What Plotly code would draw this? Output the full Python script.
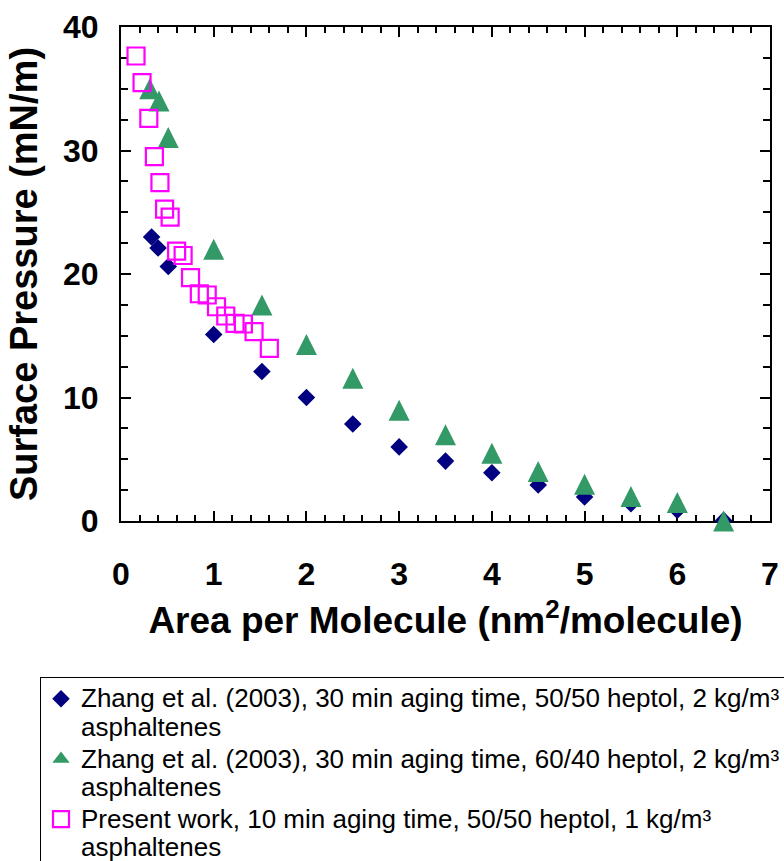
import plotly.graph_objects as go

# ---- data ----
zhang_5050_x = [0.33, 0.40, 0.51, 1.0, 1.52, 2.0, 2.5, 3.0, 3.5, 4.0, 4.5, 5.0, 5.5, 6.0, 6.5]
zhang_5050_y = [23.0, 22.1, 20.6, 15.1, 12.1, 10.0, 7.85, 6.0, 4.85, 3.9, 2.92, 1.95, 1.4, 0.87, 0.05]

zhang_6040_x = [0.31, 0.41, 0.51, 1.0, 1.52, 2.0, 2.5, 3.0, 3.5, 4.0, 4.5, 5.0, 5.5, 6.0, 6.5]
zhang_6040_y = [35.0, 34.0, 31.05, 22.0, 17.5, 14.3, 11.55, 8.97, 6.98, 5.49, 4.0, 2.98, 1.98, 1.5, 0.0]

present_x = [0.162, 0.227, 0.30, 0.36, 0.42, 0.47, 0.53, 0.60, 0.67, 0.75, 0.845, 0.93,
             1.03, 1.13, 1.23, 1.32, 1.435, 1.60]
present_y = [37.65, 35.5, 32.6, 29.5, 27.4, 25.26, 24.6, 21.86, 21.5, 19.7, 18.4, 18.3,
             17.35, 16.6, 16.0, 15.95, 15.33, 13.98]

series_names = [
    "Zhang et al. (2003), 30 min aging time, 50/50 heptol, 2 kg/m³<br>asphaltenes",
    "Zhang et al. (2003), 30 min aging time, 60/40 heptol, 2 kg/m³<br>asphaltenes",
    "Present work, 10 min aging time, 50/50 heptol, 1 kg/m³<br>asphaltenes",
]

x_title = "Area per Molecule (nm<sup>2</sup>/molecule)"
y_title = "Surface Pressure (mN/m)"
x_range = [0, 7]
y_range = [0, 40]

FONT = "Liberation Sans, Arial, sans-serif"
GREEN = "#339966"


def legend_label(s):
    # larger glyphs while keeping the legend line pitch of the base legend font
    return "<br>".join('<span style="font-size:26px">' + part + "</span>" for part in s.split("<br>"))


fig = go.Figure()
fig.add_trace(go.Scatter(
    x=zhang_5050_x, y=zhang_5050_y, mode="markers", name=legend_label(series_names[0]),
    marker=dict(symbol="diamond", size=13.5, color="#000080", line=dict(width=0)),
    cliponaxis=False,
))
# data marks of the 60/40 series (tall triangles, centred on the points)
fig.add_trace(go.Scatter(
    x=zhang_6040_x, y=zhang_6040_y, mode="markers", name=legend_label(series_names[1]),
    legendgroup="z6040", showlegend=False,
    marker=dict(symbol="arrow-down", angle=180, size=21, color=GREEN,
                line=dict(width=0), standoff=10.5),
    cliponaxis=False,
))
# legend entry for the 60/40 series (no data marks drawn)
fig.add_trace(go.Scatter(
    x=[None], y=[None], mode="markers", name=legend_label(series_names[1]),
    legendgroup="z6040", showlegend=True, hoverinfo="skip",
    marker=dict(symbol="triangle-up", size=15, color=GREEN, line=dict(width=0)),
))
fig.add_trace(go.Scatter(
    x=present_x, y=present_y, mode="markers", name=legend_label(series_names[2]),
    marker=dict(symbol="square-open", size=17, color="#FF00FF", line=dict(width=2.2, color="#FF00FF")),
    cliponaxis=False,
))

axis_common = dict(
    showline=True, linewidth=2, linecolor="black", mirror="allticks",
    ticks="inside", ticklen=10, tickwidth=2, tickcolor="black",
    showgrid=False, zeroline=False,
    tickfont=dict(family=FONT, size=32, color="black", weight="bold"),
    layer="below traces",
)

fig.update_xaxes(
    range=x_range, tick0=0, dtick=1,
    minor=dict(ticks="inside", dtick=0.2, ticklen=6, tickwidth=1.5, tickcolor="black", showgrid=False),
    title=dict(text=x_title, standoff=16,
               font=dict(family=FONT, size=37, color="black", weight="bold")),
    ticklabelstandoff=24,
    **axis_common,
)
fig.update_yaxes(
    range=y_range, tick0=0, dtick=10,
    minor=dict(ticks="inside", dtick=2.5, ticklen=7, tickwidth=1.5, tickcolor="black", showgrid=False),
    title=dict(text=y_title, standoff=14,
               font=dict(family=FONT, size=38, color="black", weight="bold")),
    ticklabelstandoff=14,
    **axis_common,
)

fig.update_layout(
    width=784, height=861,
    margin=dict(l=121, r=14, t=27, b=340, autoexpand=False),
    paper_bgcolor="white", plot_bgcolor="white",
    showlegend=True,
    legend=dict(
        x=-0.1248, y=-0.3158, xanchor="left", yanchor="top",
        bgcolor="white", bordercolor="black", borderwidth=1,
        font=dict(family=FONT, size=22, color="black"),
        valign="top", itemclick=False, itemdoubleclick=False, tracegroupgap=0,
    ),
)

fig.write_html("out.html")
